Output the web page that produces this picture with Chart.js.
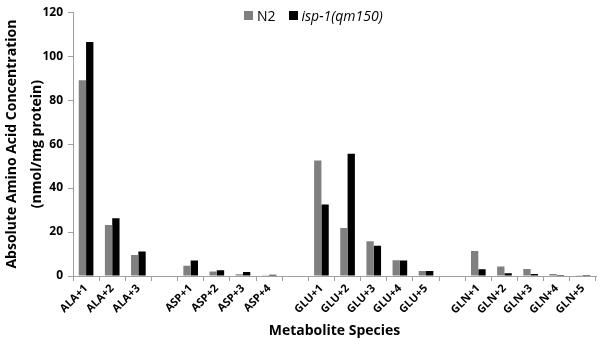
<!DOCTYPE html>
<html><head><meta charset="utf-8">
<script src="https://cdn.jsdelivr.net/npm/chart.js@4/dist/chart.umd.min.js"></script>
<style>
html,body{margin:0;padding:0;background:#fff;}
#wrap{position:relative;width:600px;height:347px;}
#legend{position:absolute;top:6px;left:244px;font-family:"Open Sans","Liberation Sans",sans-serif;font-size:14px;line-height:19px;color:#000;display:flex;align-items:center;}
#legend span.box{display:inline-block;width:9px;height:9px;margin-right:4px;}
#legend span.item{display:flex;align-items:center;margin-right:13px;}
</style>
</head><body>
<div id="wrap"><canvas id="c" width="600" height="347"></canvas>
<div id="legend"></div></div>
<script>
const categories = ["ALA+1","ALA+2","ALA+3","","ASP+1","ASP+2","ASP+3","ASP+4","","GLU+1","GLU+2","GLU+3","GLU+4","GLU+5","","GLN+1","GLN+2","GLN+3","GLN+4","GLN+5"];
const seriesNames = ["N2","isp-1(qm150)"];
const n2Values  = [89,23.2,9.6,null,4.7,2.1,0.8,0.1,null,52.5,21.8,15.8,7.2,2.3,null,11.4,4.3,3.2,0.9,0.3];
const ispValues = [106.5,26.3,11.2,null,7.0,2.6,1.8,0.6,null,32.5,55.6,13.8,7.0,2.3,null,3.1,1.2,0.9,0.4,0.4];
const yTicks = [0,20,40,60,80,100,120];
const colors = ["#808080","#000000"];

const lg = document.getElementById('legend');
seriesNames.forEach((n,i)=>{
  const it=document.createElement('span'); it.className='item';
  const b=document.createElement('span'); b.className='box'; b.style.background=colors[i];
  const t=document.createElement('span'); t.textContent=n; if(i===1) t.style.fontStyle='italic';
  it.appendChild(b); it.appendChild(t); lg.appendChild(it);
});

const FF = '"Open Sans","Liberation Sans",sans-serif';
new Chart(document.getElementById('c'), {
  type:'bar',
  data:{labels:categories, datasets:[
    {label:seriesNames[0], data:n2Values, backgroundColor:colors[0], categoryPercentage:0.56, barPercentage:1.0},
    {label:seriesNames[1], data:ispValues, backgroundColor:colors[1], categoryPercentage:0.56, barPercentage:1.0}
  ]},
  options:{
    responsive:false, animation:false,
    layout:{padding:{top:6,right:4,left:0,bottom:0}},
    plugins:{legend:{display:false}, tooltip:{enabled:false}},
    scales:{
      x:{
        offset:true,
        grid:{offset:true, drawOnChartArea:false, drawTicks:true, tickLength:5, color:'#a0a0a0'},
        border:{color:'#a0a0a0'},
        ticks:{maxRotation:45, minRotation:45, autoSkip:false, color:'#000', font:{family:FF, size:11, weight:'bold'}, padding:1},
        title:{display:true, text:'Metabolite Species', color:'#000', font:{family:FF, size:14, weight:'bold'}, padding:{top:4,bottom:8}},
        afterFit(s){ s.height = 71; }
      },
      y:{
        min:0, max:120,
        afterBuildTicks(s){ s.ticks = yTicks.map(v=>({value:v})); },
        grid:{drawOnChartArea:false, drawTicks:true, tickLength:5, color:'#a0a0a0'},
        border:{color:'#a0a0a0'},
        ticks:{color:'#000', font:{family:FF, size:12, weight:'bold'}, padding:5},
        title:{display:true, text:['Absolute Amino Acid Concentration','(nmol/mg protein)'], color:'#000', font:{family:FF, size:14, weight:'bold', lineHeight:1.75}, padding:{top:0,bottom:0}},
        afterFit(s){ s.width = 73; }
      }
    }
  }
});
</script>
</body></html>
